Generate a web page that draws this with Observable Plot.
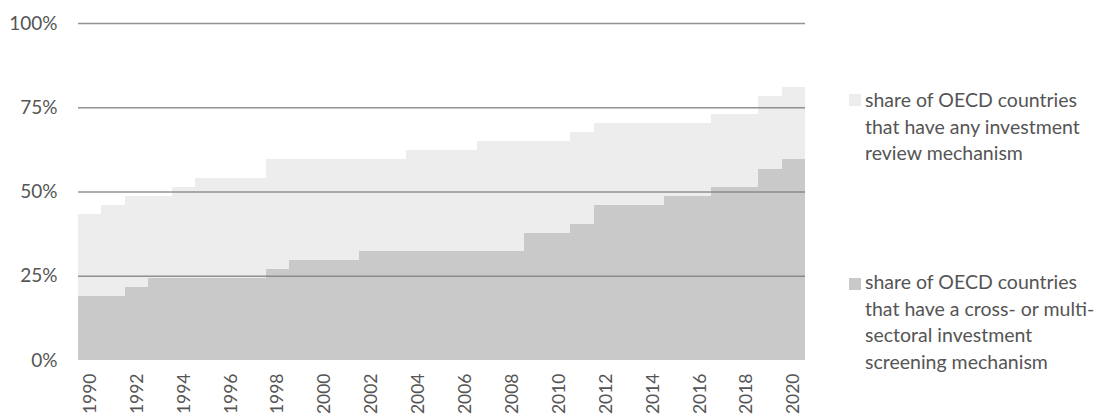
<!DOCTYPE html>
<html>
<head>
<meta charset="utf-8">
<script src="https://cdn.jsdelivr.net/npm/d3@7"></script>
<script src="https://cdn.jsdelivr.net/npm/@observablehq/plot@0.6"></script>
<style>
  html, body { margin: 0; padding: 0; background: #ffffff; }
  #wrap { position: relative; width: 1103px; height: 418px; overflow: hidden; font-family: Lato, "Open Sans", sans-serif; }
  #chart { position: absolute; left: 0; top: 0; }
  .item { position: absolute; left: 849px; color: #555555; font-size: 19.5px; line-height: 26.5px; }
  .sw { position: absolute; left: 0; width: 12px; height: 12px; }
  .txt { position: absolute; left: 16px; white-space: nowrap; }
</style>
</head>
<body>
<div id="wrap">
  <div id="chart"></div>
  <div class="item" style="top:87px">
    <div class="sw" id="sw1" style="top:7px"></div>
    <div class="txt" id="lab1"></div>
  </div>
  <div class="item" style="top:269px">
    <div class="sw" id="sw2" style="top:9px"></div>
    <div class="txt" id="lab2"></div>
  </div>
</div>
<script>
const years = [1990,1991,1992,1993,1994,1995,1996,1997,1998,1999,2000,2001,2002,2003,2004,2005,2006,2007,2008,2009,2010,2011,2012,2013,2014,2015,2016,2017,2018,2019,2020];
const anyReview = [43.2,45.9,48.6,48.6,51.4,54.1,54.1,54.1,59.5,59.5,59.5,59.5,59.5,59.5,62.2,62.2,62.2,64.9,64.9,64.9,64.9,67.6,70.3,70.3,70.3,70.3,70.3,73.0,73.0,78.4,81.1];
const crossSectoral = [18.9,18.9,21.6,24.3,24.3,24.3,24.3,24.3,27.0,29.7,29.7,29.7,32.4,32.4,32.4,32.4,32.4,32.4,32.4,37.8,37.8,40.5,45.9,45.9,45.9,48.6,48.6,51.4,51.4,56.8,59.5];
const yTicks = [0,25,50,75,100];
const xTickLabels = [1990,1992,1994,1996,1998,2000,2002,2004,2006,2008,2010,2012,2014,2016,2018,2020];
const seriesNames = ["share of OECD countries\nthat have any investment\nreview mechanism",
                     "share of OECD countries\nthat have a cross- or multi-\nsectoral investment\nscreening mechanism"];
const seriesColors = ["#ededed", "#c9c9c9"];

const data = years.map((y, i) => ({year: y, any: anyReview[i], cross: crossSectoral[i]}));

const chart = Plot.plot({
  width: 820,
  height: 418,
  marginLeft: 78,
  marginRight: 15,
  marginTop: 23,
  marginBottom: 58,
  style: {fontFamily: "Lato, 'Open Sans', sans-serif", fontSize: "19px", color: "#555555", background: "#ffffff"},
  x: {type: "band", domain: years, padding: 0, round: false, axis: null, label: null},
  y: {domain: [0, 100], axis: null, label: null},
  marks: [
    Plot.barY(data, {x: "year", y: "any", fill: seriesColors[0], inset: 0, shapeRendering: "crispEdges"}),
    Plot.barY(data, {x: "year", y: "cross", fill: seriesColors[1], inset: 0, shapeRendering: "crispEdges"}),
    Plot.ruleY(yTicks.filter(d => d > 0), {stroke: "#808080", strokeWidth: 1.4, strokeOpacity: 0.85}),
    Plot.axisY({ticks: yTicks, tickSize: 0, tickPadding: 21, tickFormat: d => d + "%", fontSize: 19, label: null}),
    Plot.axisX({ticks: xTickLabels, tickSize: 0, tickPadding: 13, tickRotate: -90, tickFormat: d => String(d), fontSize: 17.5, label: null})
  ]
});
document.getElementById("chart").appendChild(chart);

document.getElementById("sw1").style.background = seriesColors[0];
document.getElementById("sw2").style.background = seriesColors[1];
document.getElementById("lab1").innerHTML = seriesNames[0].split("\n").join("<br>");
document.getElementById("lab2").innerHTML = seriesNames[1].split("\n").join("<br>");
</script>
</body>
</html>
